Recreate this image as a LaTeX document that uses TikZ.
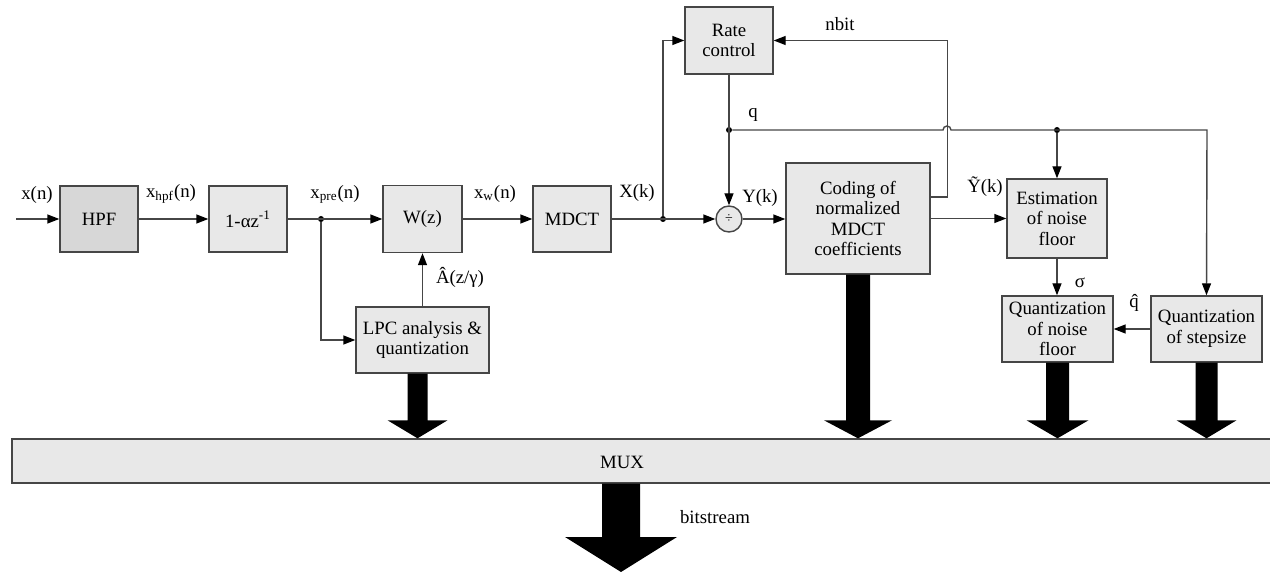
\documentclass[tikz,border=0pt]{standalone}
\usepackage{fontspec}
\setmainfont{Liberation Serif}
\usetikzlibrary{arrows.meta,calc}
\definecolor{boxfill}{RGB}{232,232,232}
\definecolor{hpffill}{RGB}{215,215,215}
\definecolor{edge}{RGB}{70,70,70}
\newcommand\fs{\fontsize{9.4}{10.3}\selectfont}
\newcommand\fatarrow[5]{\fill[black] let \p1=#1, \p2=#2 in
  (\x1-#3,\y1) -- (\x1+#3,\y1) -- (\x1+#3,\y2+#5) -- (\x1+#4,\y2+#5) --
  (\x1,\y2) -- (\x1-#4,\y2+#5) -- (\x1-#3,\y2+#5) -- cycle;}
\begin{document}
\begin{tikzpicture}[x=0.5pt,y=-0.5pt,font=\fs,
  box/.style={draw=edge,line width=0.7pt,fill=boxfill,align=center,inner sep=0pt},
  conn/.style={draw=edge,line width=0.7pt,-{Triangle[length=6pt,width=4.5pt,color=black]}},
  dot/.style={circle,fill=black,inner sep=0pt,minimum size=3pt},
  lbl/.style={inner sep=0pt}]
\useasboundingbox (0,0) rectangle (1270,572);
% blocks
\node[box,fill=hpffill,minimum width=39pt,minimum height=33pt] (hpf) at (99,219) {HPF};
\node[box,minimum width=39pt,minimum height=33pt] (pre) at (248,219) {1-αz\textsuperscript{-1}};
\node[box,minimum width=39.5pt,minimum height=33.5pt] (wz) at (422.5,219) {W(z)};
\node[box,minimum width=39pt,minimum height=33pt] (mdct) at (572,219) {MDCT};
\node[box,minimum width=44pt,minimum height=33.5pt] (rate) at (729,40.5) {Rate\\control};
\node[circle,draw=edge,fill=boxfill,line width=0.7pt,minimum size=13pt,inner sep=0pt] (div) at (729,219) {\fontsize{7}{8}\selectfont ÷};
\node[box,minimum width=72pt,minimum height=55.5pt] (code) at (858,218.5) {Coding of\\normalized\\MDCT\\coefficients};
\node[box,minimum width=50pt,minimum height=39.5pt] (est) at (1057,218.5) {Estimation\\of noise\\floor};
\node[box,minimum width=55.5pt,minimum height=33pt] (qnf) at (1057.5,329) {Quantization\\of noise\\floor};
\node[box,minimum width=55.5pt,minimum height=33pt] (qss) at (1206.5,329) {Quantization\\of stepsize};
\node[box,minimum width=66.5pt,minimum height=33pt] (lpc) at (422.5,340) {LPC analysis \&\\quantization};
\node[box,minimum width=630pt,minimum height=22pt] (mux) at (642,461) {};
\node[lbl] (muxl) at (622,462) {MUX};
% junctions
\coordinate (in) at (16,219);
\node[dot] (jpre) at (321,219) {};
\node[dot] (jx) at (663,219) {};
\node[dot] (jq) at (729,130) {};
\node[dot] (jq2) at (1057,130) {};
\coordinate (qr) at (1207,130);
\coordinate (bsend) at (621,572);
% connectors
\draw[conn] (in) -- (hpf);
\draw[conn] (hpf) -- (pre);
\draw[conn] (pre) -- (wz);
\draw[conn] (jpre) |- (lpc.west);
\draw[conn] (lpc.north) -- (wz.south);
\draw[conn] (wz) -- (mdct);
\draw[conn] (mdct) -- (div);
\draw[conn] (jx) |- (rate.west);
\draw[conn] (rate.south) -- (div.north);
\draw[conn] (div.east) -- (div.east -| code.west);
\draw[conn] (code.east) -- (est.west);
\draw[conn] ([yshift=10.75pt]code.east) -- ++(8.5pt,0) |- (rate.east);
\draw[conn] (jq) -- (943,130) arc[start angle=180,end angle=0,radius=2pt] -- (qr) -- (qss.north);
\draw[conn] (jq2) -- (est.north);
\draw[conn] (est.south) -- (est.south |- qnf.north);
\draw[conn] (qss.west) -- (qnf.east);
% fat arrows
\fatarrow{([xshift=-2.5pt]lpc.south)}{(mux.north)}{5pt}{15pt}{9pt}
\fatarrow{(code.south)}{(mux.north)}{6pt}{17pt}{9pt}
\fatarrow{(qnf.south)}{(mux.north)}{5.75pt}{15.5pt}{9pt}
\fatarrow{(qss.south)}{(mux.north)}{5.5pt}{15pt}{9pt}
\fatarrow{([xshift=-10.5pt]mux.south)}{(bsend)}{9.5pt}{28pt}{17.5pt}
% labels
\node[lbl] at (37,195) {x(n)};
\node[lbl] at (171,194) {x\textsubscript{hpf}(n)};
\node[lbl] at (335,194) {x\textsubscript{pre}(n)};
\node[lbl] at (495,194) {x\textsubscript{w}(n)};
\node[lbl] at (637,193) {X(k)};
\node[lbl] at (760,198) {Y(k)};
\node[lbl] at (753,115) {q};
\node[lbl] at (840,24) {nbit};
\node[lbl] at (985,187) {Ỹ(k)};
\node[lbl] at (1080,283) {σ};
\node[lbl] at (1134,303) {q̂};
\node[lbl] at (460,277) {Â(z/γ)};
\node[lbl] at (715,517) {bitstream};
\end{tikzpicture}
\end{document}
